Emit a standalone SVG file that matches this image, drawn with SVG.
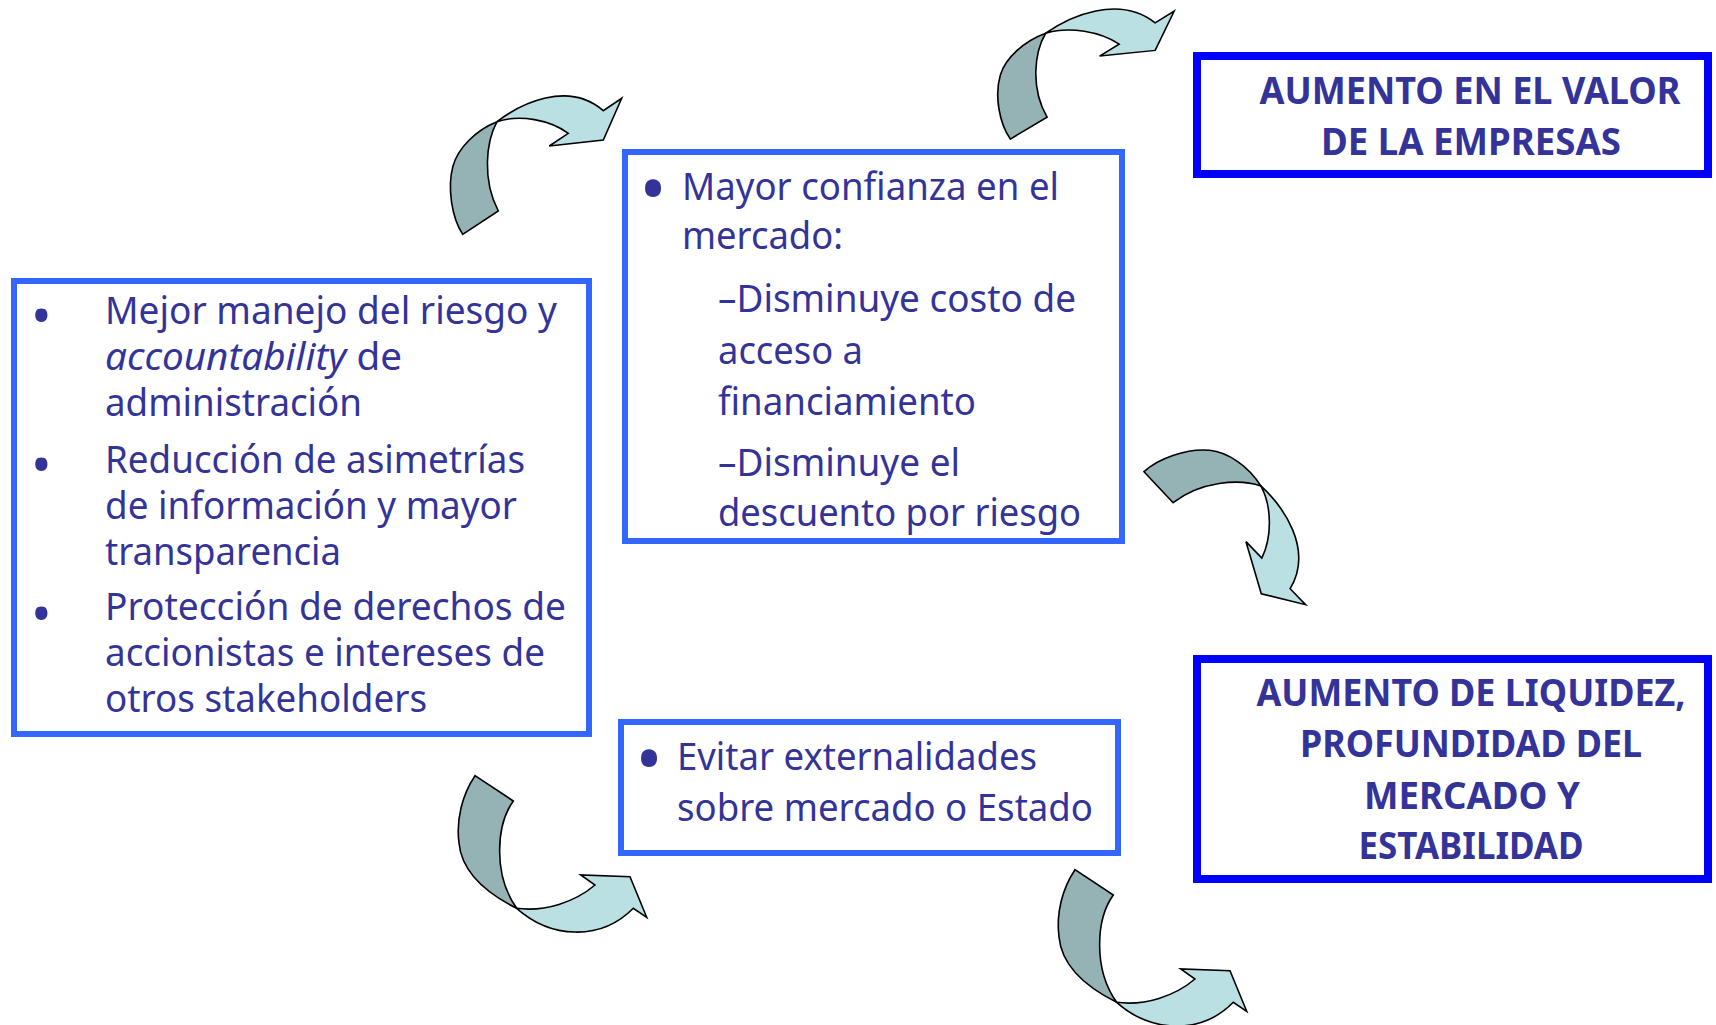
<svg xmlns="http://www.w3.org/2000/svg" xmlns:xlink="http://www.w3.org/1999/xlink" width="1716" height="1025" viewBox="0 0 1716 1025">
<style>
.box{fill:#ffffff;stroke:#3366ff;stroke-width:6}
.box2{fill:#ffffff;stroke:#0000ff;stroke-width:8}
.t{font-family:"Noto Sans","Open Sans",sans-serif;font-size:39px;fill:#333399}
.b1{font-family:"Noto Sans","Open Sans",sans-serif;font-size:55px;fill:#333399}
.b2{font-family:"Noto Sans","Open Sans",sans-serif;font-size:72px;fill:#333399}
.h{font-family:"Noto Sans","Open Sans",sans-serif;font-size:37px;font-weight:bold;fill:#333399;text-anchor:middle}
.dark{fill:#95b3b5;stroke:#000;stroke-width:1.6;stroke-linejoin:miter}
.light{fill:#bae0e3;stroke:#000;stroke-width:1.6;stroke-linejoin:miter}
</style>
<defs>
<g id="arrA">
<path class="dark" d="M22.7,154.3 L58.3,131 C42,100 46,62 57,41.7 C36,50 18,68 13,86 C7,108 12,138 22.7,154.3 Z"/>
<path class="light" d="M57,41.7 C80,24 128,0 163.3,30.7 L181.7,18.3 L163.3,60 L109.3,66 L128.3,53.3 C110,40 80,34 57,41.7 Z"/>
</g>
<g id="arrB">
<path class="dark" d="M35,15.7 L73.3,41 C56,65 53,115 76.7,148.3 C50,135 22,115 19,83 C16,60 22,35 35,15.7 Z"/>
<path class="light" d="M76.7,148.3 C110,178 160,182 193.3,148.3 L206.7,157.3 L190,116.7 L140.7,115 L155,125 C135,142 105,152 76.7,148.3 Z"/>
</g>
</defs>

<g id="connectors">
<use xlink:href="#arrA" transform="translate(440,80)"/>
<use xlink:href="#arrA" transform="translate(987,-6) scale(1.03,0.94)"/>
<use xlink:href="#arrA" transform="translate(1144,471.7) rotate(80) translate(-22.7,-154.3)"/>
<use xlink:href="#arrB" transform="translate(440,760)"/>
<use xlink:href="#arrB" transform="translate(1040,854)"/>
</g>

<g id="node-left">
<rect class="box" x="14" y="281" width="575" height="453"/>
<text class="b1" x="31" y="335">•</text>
<text class="t" x="105" y="324" textLength="452" lengthAdjust="spacingAndGlyphs">Mejor manejo del riesgo y</text>
<text class="t" x="105" y="370" textLength="297" lengthAdjust="spacingAndGlyphs"><tspan font-style="italic">accountability</tspan> de</text>
<text class="t" x="105" y="416" textLength="257" lengthAdjust="spacingAndGlyphs">administración</text>
<text class="b1" x="31" y="483.5">•</text>
<text class="t" x="105" y="473" textLength="420" lengthAdjust="spacingAndGlyphs">Reducción de asimetrías</text>
<text class="t" x="105" y="519" textLength="412" lengthAdjust="spacingAndGlyphs">de información y mayor</text>
<text class="t" x="105" y="565" textLength="236" lengthAdjust="spacingAndGlyphs">transparencia</text>
<text class="b1" x="31" y="632.5">•</text>
<text class="t" x="105" y="620" textLength="461" lengthAdjust="spacingAndGlyphs">Protección de derechos de</text>
<text class="t" x="105" y="666" textLength="440" lengthAdjust="spacingAndGlyphs">accionistas e intereses de</text>
<text class="t" x="105" y="712" textLength="322" lengthAdjust="spacingAndGlyphs">otros stakeholders</text>
</g>

<g id="node-confianza">
<rect class="box" x="625" y="152" width="497" height="389"/>
<text class="b2" x="639.5" y="213.5">•</text>
<text class="t" x="682" y="200" textLength="377" lengthAdjust="spacingAndGlyphs">Mayor confianza en el</text>
<text class="t" x="682" y="249" textLength="161" lengthAdjust="spacingAndGlyphs">mercado:</text>
<text class="t" x="718" y="312" textLength="358" lengthAdjust="spacingAndGlyphs">–Disminuye costo de</text>
<text class="t" x="718" y="364" textLength="145" lengthAdjust="spacingAndGlyphs">acceso a</text>
<text class="t" x="718" y="415" textLength="258" lengthAdjust="spacingAndGlyphs">financiamiento</text>
<text class="t" x="718" y="476" textLength="242" lengthAdjust="spacingAndGlyphs">–Disminuye el</text>
<text class="t" x="718" y="526" textLength="363" lengthAdjust="spacingAndGlyphs">descuento por riesgo</text>
</g>

<g id="node-externalidades">
<rect class="box" x="621" y="722" width="497" height="131"/>
<text class="b2" x="635.5" y="783.5">•</text>
<text class="t" x="677" y="770" textLength="360" lengthAdjust="spacingAndGlyphs">Evitar externalidades</text>
<text class="t" x="677" y="821" textLength="416" lengthAdjust="spacingAndGlyphs">sobre mercado o Estado</text>
</g>

<g id="node-valor">
<rect class="box2" x="1197" y="56" width="511" height="118"/>
<text class="h" x="1470" y="104" textLength="421" lengthAdjust="spacingAndGlyphs">AUMENTO EN EL VALOR</text>
<text class="h" x="1471" y="155" textLength="300" lengthAdjust="spacingAndGlyphs">DE LA EMPRESAS</text>
</g>

<g id="node-liquidez">
<rect class="box2" x="1197" y="659" width="511" height="220"/>
<text class="h" x="1471" y="706" textLength="429" lengthAdjust="spacingAndGlyphs">AUMENTO DE LIQUIDEZ,</text>
<text class="h" x="1471" y="757" textLength="342" lengthAdjust="spacingAndGlyphs">PROFUNDIDAD DEL</text>
<text class="h" x="1472" y="809" textLength="216" lengthAdjust="spacingAndGlyphs">MERCADO Y</text>
<text class="h" x="1471" y="859" textLength="225" lengthAdjust="spacingAndGlyphs">ESTABILIDAD</text>
</g>
</svg>
